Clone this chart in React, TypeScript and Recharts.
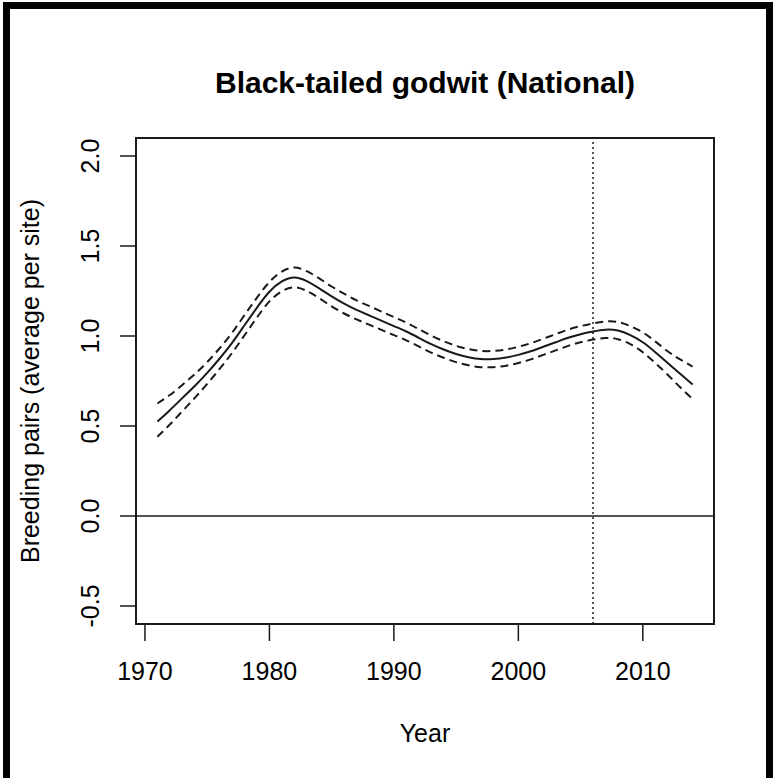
import React from 'react'
import { LineChart, Line, XAxis, YAxis, ReferenceLine, ReferenceArea, Label } from 'recharts'

const years = [
  1971, 1972, 1973, 1974, 1975, 1976, 1977, 1978, 1979, 1980,
  1981, 1982, 1983, 1984, 1985, 1986, 1987, 1988, 1989, 1990,
  1991, 1992, 1993, 1994, 1995, 1996, 1997, 1998, 1999, 2000,
  2001, 2002, 2003, 2004, 2005, 2006, 2007, 2008, 2009, 2010,
  2011, 2012, 2013, 2014,
]

const fitted = [
  0.525, 0.588, 0.655, 0.722, 0.795, 0.875, 0.962, 1.06, 1.158, 1.246,
  1.303, 1.325, 1.305, 1.265, 1.22, 1.18, 1.145, 1.115, 1.085, 1.055,
  1.025, 0.99, 0.955, 0.925, 0.9, 0.882, 0.872, 0.872, 0.88, 0.895,
  0.915, 0.94, 0.965, 0.99, 1.01, 1.025, 1.035, 1.03, 1.005, 0.965,
  0.91, 0.85, 0.79, 0.73,
]

const upper = [
  0.625, 0.672, 0.728, 0.788, 0.855, 0.932, 1.018, 1.116, 1.213, 1.3,
  1.358, 1.38, 1.36, 1.32, 1.275, 1.235, 1.198, 1.167, 1.136, 1.105,
  1.074, 1.038, 1.002, 0.971, 0.945, 0.927, 0.917, 0.917, 0.925, 0.94,
  0.96, 0.985, 1.01, 1.035, 1.055, 1.07, 1.081, 1.078, 1.055, 1.02,
  0.97, 0.915, 0.87, 0.83,
]

const lower = [
  0.44, 0.508, 0.582, 0.656, 0.734, 0.817, 0.906, 1.004, 1.103, 1.192,
  1.248, 1.27, 1.25, 1.21, 1.165, 1.125, 1.092, 1.063, 1.034, 1.005,
  0.976, 0.942, 0.908, 0.879, 0.855, 0.837, 0.827, 0.827, 0.835, 0.85,
  0.87, 0.895, 0.92, 0.945, 0.965, 0.98, 0.989, 0.982, 0.955, 0.91,
  0.85, 0.785, 0.715, 0.65,
]

const xTicks = [1970, 1980, 1990, 2000, 2010]
const yTicks = [-0.5, 0, 0.5, 1, 1.5, 2]
const xDomain = [1969.28, 2015.72]
const yDomain = [-0.6, 2.1]
const breakYear = 2006

const data = years.map((year, i) => ({
  year,
  fit: fitted[i],
  upper: upper[i],
  lower: lower[i],
}))

const FONT = '"Liberation Sans", Arial, sans-serif'
const INK = '#1a1a1a'

const YTick = (props: any) => {
  const { x, y, payload } = props
  return (
    <text
      x={x}
      y={y}
      transform={`rotate(-90 ${x} ${y})`}
      textAnchor="middle"
      fontSize={25}
      fontFamily={FONT}
      fill="#000"
    >
      {payload.value.toFixed(1)}
    </text>
  )
}

const YTitle = (props: any) => {
  const vb = props.viewBox
  const cx = 39
  const cy = vb.y + vb.height / 2
  return (
    <text
      x={cx}
      y={cy}
      transform={`rotate(-90 ${cx} ${cy})`}
      textAnchor="middle"
      fontSize={25}
      fontFamily={FONT}
      fill="#000"
    >
      Breeding pairs (average per site)
    </text>
  )
}

const XTitle = (props: any) => {
  const vb = props.viewBox
  return (
    <text
      x={vb.x + vb.width / 2}
      y={vb.y + 118}
      textAnchor="middle"
      fontSize={25}
      fontFamily={FONT}
      fill="#000"
    >
      Year
    </text>
  )
}

export default function App() {
  return (
    <div style={{ position: 'absolute', left: 0, top: 0, width: 773, height: 778, background: '#fff', overflow: 'hidden' }}>
      <div
        style={{
          position: 'absolute',
          left: 3,
          top: 2,
          width: 756,
          height: 800,
          borderLeft: '7px solid #000',
          borderRight: '7px solid #000',
          borderTop: '7px solid #000',
        }}
      />
      <div
        style={{
          position: 'absolute',
          left: 136,
          top: 68,
          width: 578,
          textAlign: 'center',
          fontFamily: FONT,
          fontWeight: 'bold',
          fontSize: 30,
          lineHeight: '30px',
          color: '#000',
        }}
      >
        Black-tailed godwit (National)
      </div>
      <LineChart
        width={773}
        height={778}
        data={data}
        margin={{ top: 138, right: 59, left: 36, bottom: 54 }}
        style={{ position: 'absolute', left: 0, top: 0 }}
      >
        <XAxis
          dataKey="year"
          type="number"
          domain={xDomain}
          ticks={xTicks}
          allowDataOverflow
          height={100}
          axisLine={false}
          tickSize={17}
          tickMargin={21}
          tickLine={{ stroke: INK, strokeWidth: 1.5 }}
          tick={{ fontSize: 25, fontFamily: FONT, fill: '#000' }}
        >
          <Label content={<XTitle />} />
        </XAxis>
        <YAxis
          type="number"
          domain={yDomain}
          ticks={yTicks}
          allowDataOverflow
          width={100}
          axisLine={false}
          tickSize={16}
          tickMargin={21}
          tickLine={{ stroke: INK, strokeWidth: 1.5 }}
          tick={<YTick />}
        >
          <Label content={<YTitle />} />
        </YAxis>
        <ReferenceArea
          x1={xDomain[0]}
          x2={xDomain[1]}
          y1={yDomain[0]}
          y2={yDomain[1]}
          fill="none"
          stroke={INK}
          strokeWidth={2}
        />
        <ReferenceLine y={0} stroke={INK} strokeWidth={1.5} />
        <ReferenceLine x={breakYear} stroke={INK} strokeWidth={1.5} strokeDasharray="2 3" />
        <Line dataKey="upper" type="natural" stroke={INK} strokeWidth={2} strokeDasharray="8 5" dot={false} isAnimationActive={false} />
        <Line dataKey="lower" type="natural" stroke={INK} strokeWidth={2} strokeDasharray="8 5" dot={false} isAnimationActive={false} />
        <Line dataKey="fit" type="natural" stroke={INK} strokeWidth={2} dot={false} isAnimationActive={false} />
      </LineChart>
    </div>
  )
}
